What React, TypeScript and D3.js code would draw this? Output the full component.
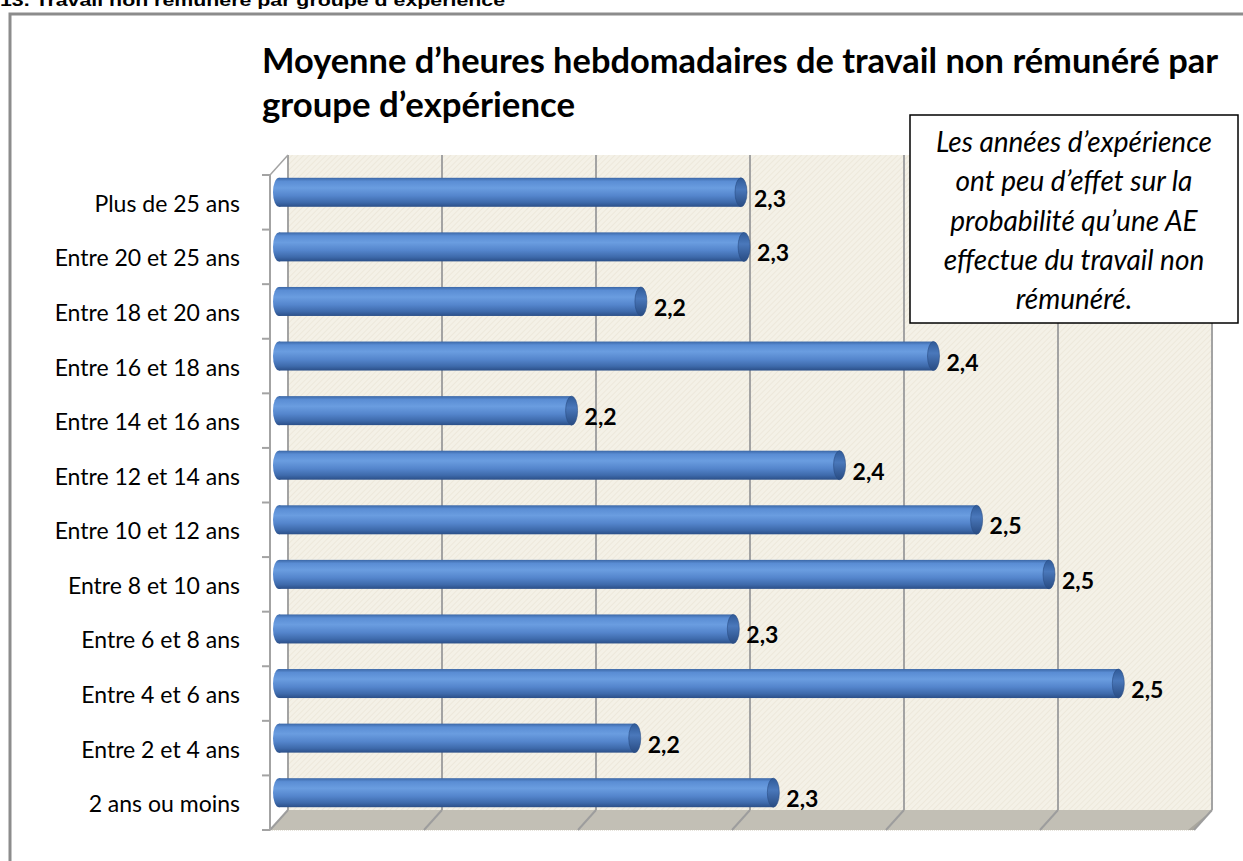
import React from "react";
import * as d3 from "d3";

const categories = [
  "Plus de 25 ans",
  "Entre 20 et 25 ans",
  "Entre 18 et 20 ans",
  "Entre 16 et 18 ans",
  "Entre 14 et 16 ans",
  "Entre 12 et 14 ans",
  "Entre 10 et 12 ans",
  "Entre 8 et 10 ans",
  "Entre 6 et 8 ans",
  "Entre 4 et 6 ans",
  "Entre 2 et 4 ans",
  "2 ans ou moins",
];
const values = [2.3, 2.302, 2.235, 2.425, 2.19, 2.364, 2.453, 2.5, 2.295, 2.545, 2.231, 2.321];
const xTicks = [2.0, 2.1, 2.2, 2.3, 2.4, 2.5, 2.6];
const titleLines = [
  "Moyenne d’heures hebdomadaires de travail non rémunéré par",
  "groupe d’expérience",
];
const noteLines = [
  "Les années d’expérience",
  "ont peu d’effet sur la",
  "probabilité qu’une AE",
  "effectue du travail non",
  "rémunéré.",
];
const headerText = "13. Travail non rémunéré par groupe d’expérience";

const fr = d3.formatLocale({ decimal: ",", thousands: " ", grouping: [3], currency: ["", " €"] });
const fmt = fr.format(".1f");

export default function App() {
  const W = 1243;
  const H = 861;
  const DX = 18;
  const DY = -20;
  const x = d3.scaleLinear().domain([2.0, 2.6]).range([270, 1194]);
  const y = d3.scaleBand<string>().domain(categories).range([175, 830]).paddingInner(0).paddingOuter(0);
  const bw = y.bandwidth();
  const barH = 29;
  const capRx = 6;
  const top = y.range()[0];
  const bottom = y.range()[1];
  const font = "Lato, 'Open Sans', sans-serif";

  const boundaries = d3.range(categories.length + 1).map((i) => top + i * bw);

  return (
    <svg width={W} height={H} style={{ position: "absolute", left: 0, top: 0, display: "block" }}>
      <defs>
        <pattern id="hatch" width="4" height="4" patternUnits="userSpaceOnUse" patternTransform="rotate(45)">
          <rect width="4" height="4" fill="#f4f1e7" />
          <line x1="0" y1="0" x2="0" y2="4" stroke="#ebe6d8" strokeWidth="1.5" />
        </pattern>
        <linearGradient id="barGrad" x1="0" y1="0" x2="0" y2="1">
          <stop offset="0%" stopColor="#3b67a6" />
          <stop offset="12%" stopColor="#5a8dd4" />
          <stop offset="35%" stopColor="#6a9de0" />
          <stop offset="62%" stopColor="#5485cc" />
          <stop offset="85%" stopColor="#3e6aab" />
          <stop offset="100%" stopColor="#2b4f88" />
        </linearGradient>
        <linearGradient id="capGrad" x1="0" y1="0" x2="0" y2="1">
          <stop offset="0%" stopColor="#2f5a98" />
          <stop offset="40%" stopColor="#4a78bb" />
          <stop offset="100%" stopColor="#284b82" />
        </linearGradient>
      </defs>
      <rect x={0} y={0} width={W} height={H} fill="#ffffff" />

      {/* header (cut at top, as in the source) */}
      <text x={0} y={6} fontFamily="'Liberation Sans', Arial, sans-serif" fontWeight="bold" fontSize={17}
        textLength={505} lengthAdjust="spacingAndGlyphs" fill="#000">{headerText}</text>

      {/* frame */}
      <path d={`M ${W + 10} 14 L 10 14 L 10 ${H + 10}`} fill="none" stroke="#8c8c8c" strokeWidth={3} />

      {/* title */}
      {titleLines.map((t, i) => (
        <text key={i} x={262} y={73 + i * 43.5} fontFamily={font} fontWeight="bold" fontSize={34} fill="#000"
          textLength={i === 0 ? 956 : 313} lengthAdjust="spacingAndGlyphs">{t}</text>
      ))}

      {/* back wall */}
      <rect x={x(2.0) + DX} y={top + DY} width={x(2.6) - x(2.0)} height={bottom - top} fill="url(#hatch)" />
      {/* floor */}
      <path
        d={`M ${x(2.0) + DX} ${bottom + DY} L ${x(2.6) + DX} ${bottom + DY} L ${x(2.6)} ${bottom} L ${x(2.0)} ${bottom} Z`}
        fill="#c2bfb5"
      />
      <path d={`M ${x(2.6) + DX} ${bottom + DY} L ${x(2.6)} ${bottom} L ${x(2.6) - 6} ${bottom} L ${x(2.6) + DX - 2} ${bottom + DY + 2} Z`} fill="#a9a69d" />
      <line x1={x(2.0)} y1={bottom + 0.5} x2={x(2.6)} y2={bottom + 0.5} stroke="#e6e3da" strokeWidth={1} strokeDasharray="1 1" />

      {/* gridlines on wall + floor */}
      {xTicks.map((t, i) => (
        <g key={i}>
          <line x1={x(t) + DX} y1={top + DY} x2={x(t) + DX} y2={bottom + DY} stroke="#a3a3a3" strokeWidth={2} />
          <line x1={x(t) + DX} y1={bottom + DY} x2={x(t)} y2={bottom} stroke="#9d9d9d" strokeWidth={2} />
        </g>
      ))}

      {/* left axis */}
      <line x1={x(2.0)} y1={top} x2={x(2.0) + DX} y2={top + DY} stroke="#a3a3a3" strokeWidth={1.5} />
      <line x1={x(2.0)} y1={top} x2={x(2.0)} y2={bottom} stroke="#a3a3a3" strokeWidth={2} />
      {boundaries.map((b, i) => (
        <line key={i} x1={x(2.0) - 8} y1={b} x2={x(2.0)} y2={b} stroke="#a3a3a3" strokeWidth={2} />
      ))}

      {/* category labels */}
      {categories.map((c) => (
        <text key={c} x={240} y={(y(c) as number) + bw / 2 + 9.5} textAnchor="end" fontFamily={font}
          fontSize={23} fill="#000">{c}</text>
      ))}

      {/* bars */}
      {categories.map((c, i) => {
        const cy = (y(c) as number) + bw / 2 - 10;
        const x0 = x(2.0) + DX / 2;
        const x1 = x(values[i]) + DX / 2;
        return (
          <g key={c}>
            <ellipse cx={x0} cy={cy} rx={capRx} ry={barH / 2} fill="url(#barGrad)" />
            <rect x={x0} y={cy - barH / 2} width={x1 - x0} height={barH} fill="url(#barGrad)" />
            <ellipse cx={x1} cy={cy} rx={capRx} ry={barH / 2} fill="url(#capGrad)" stroke="#2a4d85" strokeWidth={0.6} />
            <text x={x1 + 13} y={cy + 14.5} fontFamily={font} fontWeight="bold" fontSize={23} fill="#000">
              {fmt(values[i])}
            </text>
          </g>
        );
      })}

      {/* note box */}
      <rect x={910} y={115} width={328} height={208} fill="#ffffff" stroke="#000" strokeWidth={1.5} />
      {noteLines.map((t, i) => (
        <text key={i} x={1074} y={152 + i * 39.3} textAnchor="middle" fontFamily={font} fontStyle="italic"
          fontSize={28} fill="#000">{t}</text>
      ))}
    </svg>
  );
}
